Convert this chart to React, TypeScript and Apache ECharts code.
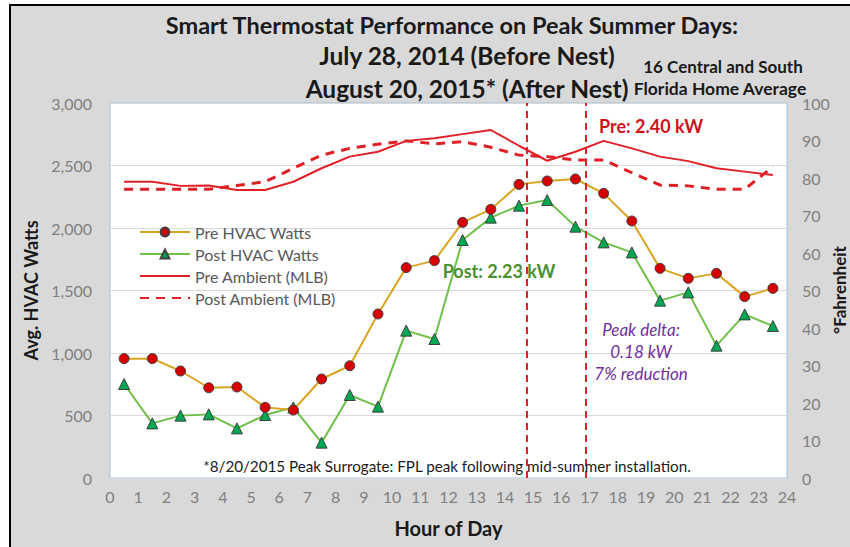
import React, { useEffect, useRef } from "react";
import * as echarts from "echarts";

const hours = [0.5, 1.5, 2.5, 3.5, 4.5, 5.5, 6.5, 7.5, 8.5, 9.5, 10.5, 11.5, 12.5, 13.5, 14.5, 15.5, 16.5, 17.5, 18.5, 19.5, 20.5, 21.5, 22.5, 23.5];
const preHvac = [955, 955, 856, 722, 728, 565, 544, 792, 898, 1312, 1683, 1739, 2045, 2149, 2349, 2376, 2392, 2277, 2056, 1677, 1597, 1637, 1451, 1517];
const postHvac = [752, 437, 499, 509, 397, 504, 565, 283, 664, 571, 1179, 1112, 1904, 2083, 2179, 2224, 2011, 1885, 1805, 1419, 1485, 1059, 1309, 1216];
const preAmbient = [79.0, 79.0, 77.9, 78.0, 76.8, 76.8, 79.0, 82.6, 85.7, 87.0, 89.9, 90.6, 91.7, 92.8, 88.6, 84.6, 87.0, 89.9, 87.9, 85.7, 84.5, 82.6, 81.7, 80.8];
const postAmbient = [77.0, 77.0, 77.0, 77.0, 78.0, 79.0, 82.6, 86.1, 87.9, 89.0, 89.9, 89.1, 89.7, 88.2, 86.1, 85.7, 84.8, 84.8, 81.4, 78.1, 77.9, 77.0, 77.0, 83.0];
const peakWindow = [14.77, 16.86];
const seriesNames = ["Pre HVAC Watts", "Post HVAC Watts", "Pre Ambient (MLB)", "Post Ambient (MLB)"];

const FONT = "Lato, 'Open Sans', sans-serif";

function pairs(ys: number[]) {
  return hours.map((h, i) => [h, ys[i]]);
}

export default function App() {
  const ref = useRef<HTMLDivElement>(null);
  useEffect(() => {
    document.body.style.margin = "0";
    const chart = echarts.init(ref.current!, null, { renderer: "svg" });
    const axisLabel = { color: "#808080", fontSize: 16, fontFamily: FONT };
    const centerText = (x: number, y: number, text: string, font: string, fill: string, extra: any = {}, rotation = 0) => ({
      type: "text",
      z: 10,
      x,
      y,
      rotation,
      style: { x: 0, y: 0, text, font, fill, align: "center", verticalAlign: "middle", ...extra },
    });
    chart.setOption({
      animation: false,
      backgroundColor: "transparent",
      textStyle: { fontFamily: FONT },
      grid: {
        left: 110,
        right: 63,
        top: 103,
        bottom: 69,
        outerBoundsMode: "none",
        containLabel: false,
        show: true,
        backgroundColor: "#ffffff",
        borderColor: "#9dc3e6",
        borderWidth: 1,
      },
      legend: {
        orient: "vertical",
        left: 134,
        top: 219,
        itemWidth: 50,
        itemHeight: 11,
        itemGap: 6,
        data: seriesNames.map((n, i) => (i >= 2 ? { name: n, itemStyle: { opacity: 0 } } : { name: n })),
        textStyle: { color: "#595959", fontSize: 16, fontFamily: FONT },
      },
      xAxis: {
        type: "value",
        min: 0,
        max: 24,
        interval: 1,
        name: "Hour of Day",
        nameLocation: "middle",
        nameGap: 40,
        nameTextStyle: { color: "#1a1a1a", fontSize: 20, fontWeight: "bold", fontFamily: FONT },
        axisLine: { show: false },
        axisTick: { show: false },
        splitLine: { show: false },
        axisLabel: { ...axisLabel, margin: 10 },
      },
      yAxis: [
        {
          type: "value",
          min: 0,
          max: 3000,
          interval: 500,
          name: "Avg. HVAC Watts",
          nameLocation: "middle",
          nameRotate: 90,
          nameGap: 70,
          nameTextStyle: { color: "#1a1a1a", fontSize: 18, fontWeight: "bold", fontFamily: FONT },
          axisLine: { show: false },
          axisTick: { show: false },
          splitLine: { lineStyle: { color: "#d9d9d9", width: 1 } },
          axisLabel: {
            ...axisLabel,
            margin: 18,
            formatter: (v: number) => v.toLocaleString("en-US"),
          },
        },
        {
          type: "value",
          min: 0,
          max: 100,
          interval: 10,
          position: "right",
          axisLine: { show: false },
          axisTick: { show: false },
          splitLine: { show: false },
          axisLabel: { ...axisLabel, margin: 15 },
        },
      ],
      series: [
        {
          name: seriesNames[2],
          type: "line",
          yAxisIndex: 1,
          data: pairs(preAmbient),
          symbol: "none",
          lineStyle: { color: "#e02027", width: 2 },
          itemStyle: { color: "#e02027" },
          z: 2,
          markLine: {
            silent: true,
            symbol: "none",
            label: { show: false },
            lineStyle: { color: "#e02027", type: [7, 5], width: 2 },
            data: peakWindow.map((x) => ({ xAxis: x })),
          },
        },
        {
          name: seriesNames[3],
          type: "line",
          yAxisIndex: 1,
          data: pairs(postAmbient),
          symbol: "none",
          lineStyle: { color: "#e02027", width: 3, type: [9, 7] },
          itemStyle: { color: "#e02027" },
          z: 2,
        },
        {
          name: seriesNames[0],
          type: "line",
          yAxisIndex: 0,
          data: pairs(preHvac),
          symbol: "circle",
          symbolSize: 10,
          lineStyle: { color: "#d9a520", width: 2 },
          itemStyle: { color: "#d50000", borderColor: "#404040", borderWidth: 1 },
          z: 4,
        },
        {
          name: seriesNames[1],
          type: "line",
          yAxisIndex: 0,
          data: pairs(postHvac),
          symbol: "triangle",
          symbolSize: 11,
          lineStyle: { color: "#6fbf4a", width: 2 },
          itemStyle: { color: "#00a650", borderColor: "#404040", borderWidth: 1 },
          z: 3,
        },
      ],
      graphic: [
        centerText(452, 25, "Smart Thermostat Performance on Peak Summer Days:", `bold 23.5px ${FONT}`, "#1a1a1a"),
        centerText(467, 55, "July 28, 2014 (Before Nest)", `bold 24.5px ${FONT}`, "#1a1a1a"),
        centerText(467, 88, "August 20, 2015* (After Nest)", `bold 24.5px ${FONT}`, "#1a1a1a"),
        centerText(723, 66, "16 Central and South", `bold 17px ${FONT}`, "#1a1a1a"),
        centerText(720, 88, "Florida Home Average", `bold 17.5px ${FONT}`, "#1a1a1a"),
        centerText(651, 126, "Pre: 2.40 kW", `bold 18px ${FONT}`, "#d0121b"),
        centerText(499, 271, "Post: 2.23 kW", `bold 18px ${FONT}`, "#4e9030"),
        centerText(641, 351, "Peak delta:\n0.18 kW\n7% reduction", `italic 17px ${FONT}`, "#7030a0", { lineHeight: 22 }),
        centerText(447, 466, "*8/20/2015 Peak Surrogate: FPL peak following mid-summer installation.", `15.2px ${FONT}`, "#1a1a1a"),
        centerText(839, 290, "°Fahrenheit", `bold 17px ${FONT}`, "#1a1a1a", {}, Math.PI / 2),
      ],
    });
    return () => chart.dispose();
  }, []);
  return (
    <div style={{ position: "relative", width: 850, height: 547, background: "#ffffff", overflow: "hidden" }}>
      <div
        style={{
          position: "absolute",
          left: 9,
          top: 4,
          width: 900,
          height: 600,
          background: "#d9d9d9",
          borderLeft: "2px solid #000",
          borderTop: "2px solid #000",
        }}
      />
      <div ref={ref} style={{ position: "absolute", left: 0, top: 0, width: 850, height: 547 }} />
    </div>
  );
}
